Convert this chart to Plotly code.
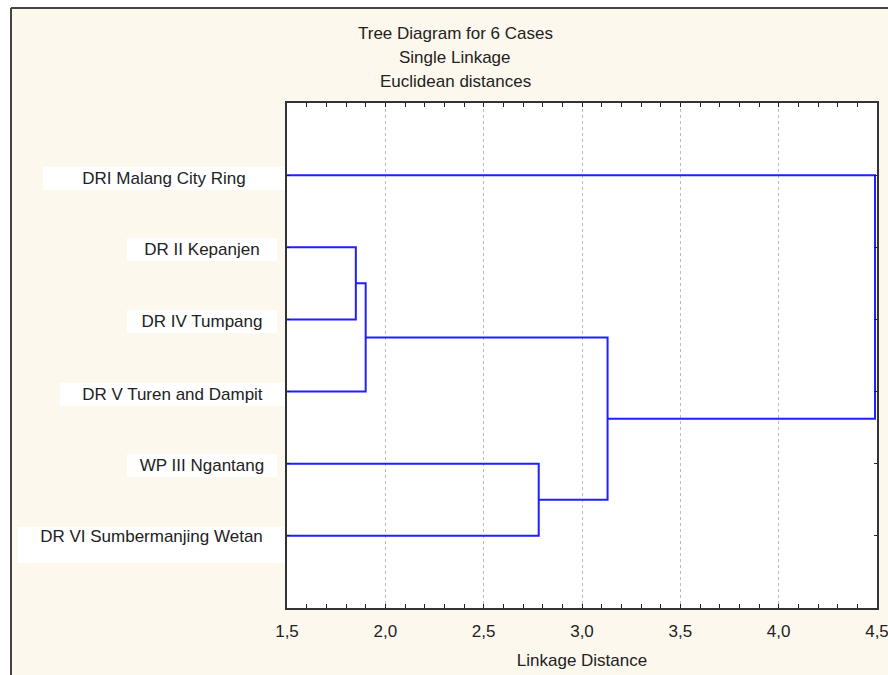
import plotly.graph_objects as go

# ---- data ----
leaf_labels = ["DRI Malang City Ring", "DR II Kepanjen", "DR IV Tumpang",
               "DR V Turen and Dampit", "WP III Ngantang", "DR VI Sumbermanjing Wetan"]
# merges: (left cluster, right cluster, linkage distance); new clusters get ids 6,7,...
merge_left = [1, 6, 4, 7, 0]
merge_right = [2, 3, 5, 8, 9]
merge_dist = [1.85, 1.90, 2.78, 3.13, 4.49]
x_ticks = [1.5, 2.0, 2.5, 3.0, 3.5, 4.0, 4.5]
title_lines = ["Tree Diagram for 6 Cases", "Single Linkage", "Euclidean distances"]
x_title = "Linkage Distance"

# ---- build dendrogram segments ----
n = len(leaf_labels)
pos = {i: i + 1 for i in range(n)}
height = {i: 0.0 for i in range(n)}
xs, ys = [], []
for k, (a, b, d) in enumerate(zip(merge_left, merge_right, merge_dist)):
    xs += [height[a], d, d, height[b], None]
    ys += [pos[a], pos[a], pos[b], pos[b], None]
    cid = n + k
    pos[cid] = (pos[a] + pos[b]) / 2
    height[cid] = d

FONT = "Liberation Sans, Arial, sans-serif"
FS = 17
fig = go.Figure(go.Scatter(x=xs, y=ys, mode="lines",
                           line=dict(color="#1f1fff", width=2),
                           hoverinfo="skip", showlegend=False))

# plot area in pixels: x 287..877, y 103..608
W, H = 888, 675
L, R, T, B = 287, 877, 103, 608
def px(xp):
    return (xp - L) / (R - L)
def py(yp):
    return (B - yp) / (B - T)

# label boxes (left, right, top, bottom) in pixels
boxes = [(43, 285, 167, 190), (127, 277, 238, 261), (127, 277, 310, 333),
         (60, 285, 383, 406), (127, 277, 454, 477), (18, 285, 527, 563)]
for lab, (bl, br, bt, bb) in zip(leaf_labels, boxes):
    tall = (bb - bt) > 30
    fig.add_annotation(text=lab, xref="paper", yref="paper",
                       x=px(br), y=py(bt), xanchor="right", yanchor="top",
                       width=br - bl, height=bb - bt, align="center",
                       valign="top" if tall else "middle",
                       bgcolor="white", borderpad=0, borderwidth=0,
                       showarrow=False,
                       font=dict(family=FONT, size=FS, color="#222"))

for t, yp in zip(title_lines, [33, 58, 82]):
    fig.add_annotation(text=t, xref="paper", yref="paper", x=px(455), y=py(yp),
                       xanchor="center", yanchor="middle", showarrow=False,
                       font=dict(family=FONT, size=FS, color="#222"))

# outer white margins + border
fig.add_shape(type="rect", xref="paper", yref="paper", x0=px(0), x1=px(10),
              y0=py(H), y1=py(0), fillcolor="white", line_width=0, layer="below")
fig.add_shape(type="rect", xref="paper", yref="paper", x0=px(0), x1=px(W),
              y0=py(7), y1=py(0), fillcolor="white", line_width=0, layer="below")
fig.add_shape(type="line", xref="paper", yref="paper", x0=px(11), x1=px(11),
              y0=py(H + 5), y1=py(8), line=dict(color="#444", width=2))
fig.add_shape(type="line", xref="paper", yref="paper", x0=px(11), x1=px(W + 5),
              y0=py(8), y1=py(8), line=dict(color="#444", width=2))

fig.update_layout(
    width=W, height=H,
    margin=dict(l=L, r=W - R, t=T, b=H - B),
    paper_bgcolor="#fdf8ee", plot_bgcolor="white",
    separators=",.",
    font=dict(family=FONT, size=FS, color="#222"),
    showlegend=False,
)
fig.update_xaxes(range=[1.5, 4.5], tickvals=x_ticks, tickformat=".1f",
                 ticks="inside", ticklen=4, tickcolor="#222", tickwidth=1,
                 ticklabelstandoff=7, automargin=False, ticklabeloverflow="allow",
                 minor=dict(dtick=0.1, ticks="inside", ticklen=4, tickcolor="#222", showgrid=False),
                 showgrid=True, gridcolor="#bbbbbb", griddash="dot", gridwidth=1,
                 showline=True, linecolor="#333", linewidth=2, mirror="ticks",
                 zeroline=False,
                 title=dict(text=x_title, standoff=14, font=dict(family=FONT, size=FS)))
fig.update_yaxes(range=[7, 0], tickvals=list(range(1, n + 1)), showticklabels=False,
                 ticks="inside", ticklen=3, tickcolor="#222", automargin=False,
                 showgrid=False, zeroline=False,
                 showline=True, linecolor="#333", linewidth=2, mirror="ticks")

fig.write_html("out.html", config={"displayModeBar": False},
               post_script="document.body.style.margin='0';document.body.style.overflow='hidden';")
